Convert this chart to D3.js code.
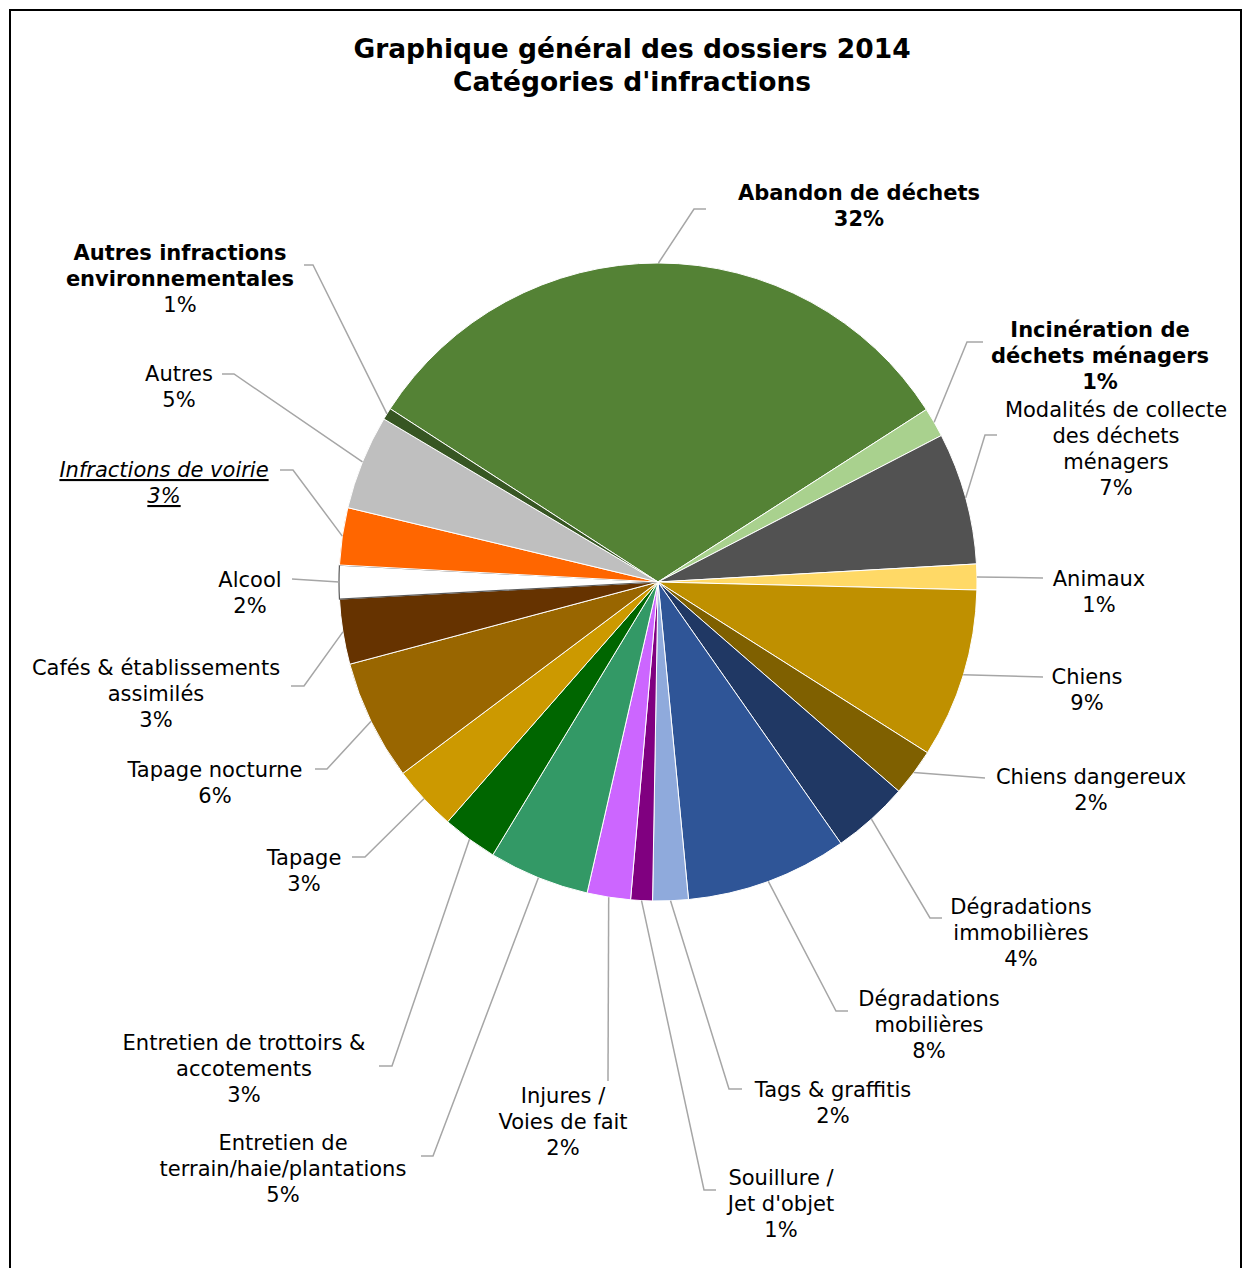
<!DOCTYPE html>
<html lang="fr">
<head>
<meta charset="utf-8">
<script src="https://cdn.jsdelivr.net/npm/d3@7"></script>
<style>
  html, body { margin: 0; padding: 0; background: #fff; }
  svg { display: block; }
  text { font-family: "DejaVu Sans", Verdana, sans-serif; fill: #000; }
</style>
</head>
<body>
<svg id="chart" width="1244" height="1268"></svg>
<script>
// Categories (clockwise, starting with the largest slice)
const categories = [
  "Abandon de déchets",
  "Incinération de déchets ménagers",
  "Modalités de collecte des déchets ménagers",
  "Animaux",
  "Chiens",
  "Chiens dangereux",
  "Dégradations immobilières",
  "Dégradations mobilières",
  "Tags & graffitis",
  "Souillure / Jet d'objet",
  "Injures / Voies de fait",
  "Entretien de terrain/haie/plantations",
  "Entretien de trottoirs & accotements",
  "Tapage",
  "Tapage nocturne",
  "Cafés & établissements assimilés",
  "Alcool",
  "Infractions de voirie",
  "Autres",
  "Autres infractions environnementales"
];

// Share of the 2014 files per category (%)
const shares = [31.8, 1.5, 6.7, 1.3, 8.6, 2.4, 3.9, 8.2, 1.8, 1.1, 2.2, 5.1, 2.8, 3.3, 6.1, 3.3, 1.7, 2.9, 4.8, 0.6];

// Label text, split into lines
const labelLines = [
  ["Abandon de déchets"],
  ["Incinération de", "déchets ménagers"],
  ["Modalités de collecte", "des déchets", "ménagers"],
  ["Animaux"],
  ["Chiens"],
  ["Chiens dangereux"],
  ["Dégradations", "immobilières"],
  ["Dégradations", "mobilières"],
  ["Tags & graffitis"],
  ["Souillure /", "Jet d'objet"],
  ["Injures /", "Voies de fait"],
  ["Entretien de", "terrain/haie/plantations"],
  ["Entretien de trottoirs &", "accotements"],
  ["Tapage"],
  ["Tapage nocturne"],
  ["Cafés & établissements", "assimilés"],
  ["Alcool"],
  ["Infractions de voirie"],
  ["Autres"],
  ["Autres infractions", "environnementales"]
];

// Label style: "b" = name and value bold, "n" = name bold only, "i" = italic underlined, "" = regular
const labelStyle = ["b", "b", "", "", "", "", "", "", "", "", "", "", "", "", "", "", "", "i", "", "n"];

const colors = [
  "#548235", "#a9d18e", "#525252", "#ffd966", "#bf9000", "#7f6000",
  "#203864", "#2f5597", "#8faadc", "#800080", "#cc66ff", "#339966",
  "#006600", "#cc9900", "#996600", "#663300", "#ffffff", "#ff6600",
  "#bfbfbf", "#375623"
];

const title = ["Graphique général des dossiers 2014", "Catégories d'infractions"];

// Label layout: [text centre x, first line centre y, elbow x, elbow y, end x]
const labelLayout = [
  [859, 193, 694, 209, 706],
  [1100, 330, 967, 342, 983],
  [1116, 410, 985, 435, 997],
  [1099, 579, 1043, 578, 1043],
  [1087, 677, 1043, 677, 1043],
  [1091, 777, 985, 778, 985],
  [1021, 907, 930, 918, 942],
  [929, 999, 836, 1011, 848],
  [833, 1090, 729, 1089, 742],
  [781, 1178, 704, 1190, 716],
  [563, 1096, 608, 1081, 608],
  [283, 1143, 433, 1156, 421],
  [244, 1043, 392, 1066, 379],
  [304, 858, 365, 857, 352],
  [215, 770, 327, 769, 315],
  [156, 668, 304, 686, 291],
  [250, 580, 292, 579, 292],
  [164, 470, 293, 470, 280],
  [179, 374, 234, 374, 222],
  [180, 253, 313, 265, 304]
];

const svg = d3.select("#chart");
const cx = 658, cy = 582, radius = 319;
const lineH = 26;
const fontSize = 21;

// Frame
svg.append("path")
  .attr("d", "M10,1268 L10,10 L1241,10 L1241,1268")
  .attr("fill", "none").attr("stroke", "#000").attr("stroke-width", 2);

// Title
svg.append("text")
  .attr("x", 632).attr("text-anchor", "middle")
  .style("font-weight", "bold").style("font-size", "26.5px")
  .selectAll("tspan").data(title).join("tspan")
  .attr("x", 632).attr("y", (d, i) => 58 + i * 33).text(d => d);

const total = d3.sum(shares);
const startDeg = -57.1;
const pie = d3.pie().sort(null).value(d => d)
  .startAngle(startDeg * Math.PI / 180)
  .endAngle((startDeg + 360) * Math.PI / 180);
const arcs = pie(shares);
const arc = d3.arc().innerRadius(0).outerRadius(radius);

const g = svg.append("g").attr("transform", `translate(${cx},${cy})`);
g.selectAll("path").data(arcs).join("path")
  .attr("d", arc)
  .attr("fill", (d, i) => colors[i])
  .attr("stroke", (d, i) => colors[i] === "#ffffff" ? "#595959" : "#ffffff")
  .attr("stroke-width", (d, i) => colors[i] === "#ffffff" ? 1.2 : 1);

// Leader lines
const leaders = svg.append("g");
arcs.forEach((a, i) => {
  const mid = (a.startAngle + a.endAngle) / 2;
  const sx = cx + radius * Math.sin(mid);
  const sy = cy - radius * Math.cos(mid);
  const [, , ex, ey, endX] = labelLayout[i];
  leaders.append("polyline")
    .attr("points", `${sx},${sy} ${ex},${ey} ${endX},${ey}`)
    .attr("fill", "none").attr("stroke", "#a6a6a6").attr("stroke-width", 1.5);
});

// Labels
const labels = svg.append("g").style("font-size", fontSize + "px");
arcs.forEach((a, i) => {
  const [lx, ly] = labelLayout[i];
  const pct = Math.round(shares[i] / total * 100) + "%";
  const lines = labelLines[i].concat([pct]);
  const style = labelStyle[i];
  const t = labels.append("text").attr("text-anchor", "middle");
  lines.forEach((ln, j) => {
    const isValue = j === lines.length - 1;
    const ts = t.append("tspan")
      .attr("x", lx).attr("y", ly + 7 + j * lineH).text(ln);
    if (style === "b" || (style === "n" && !isValue)) ts.style("font-weight", "bold");
    if (style === "i") ts.style("font-style", "italic").style("text-decoration", "underline");
  });
});
</script>
</body>
</html>
